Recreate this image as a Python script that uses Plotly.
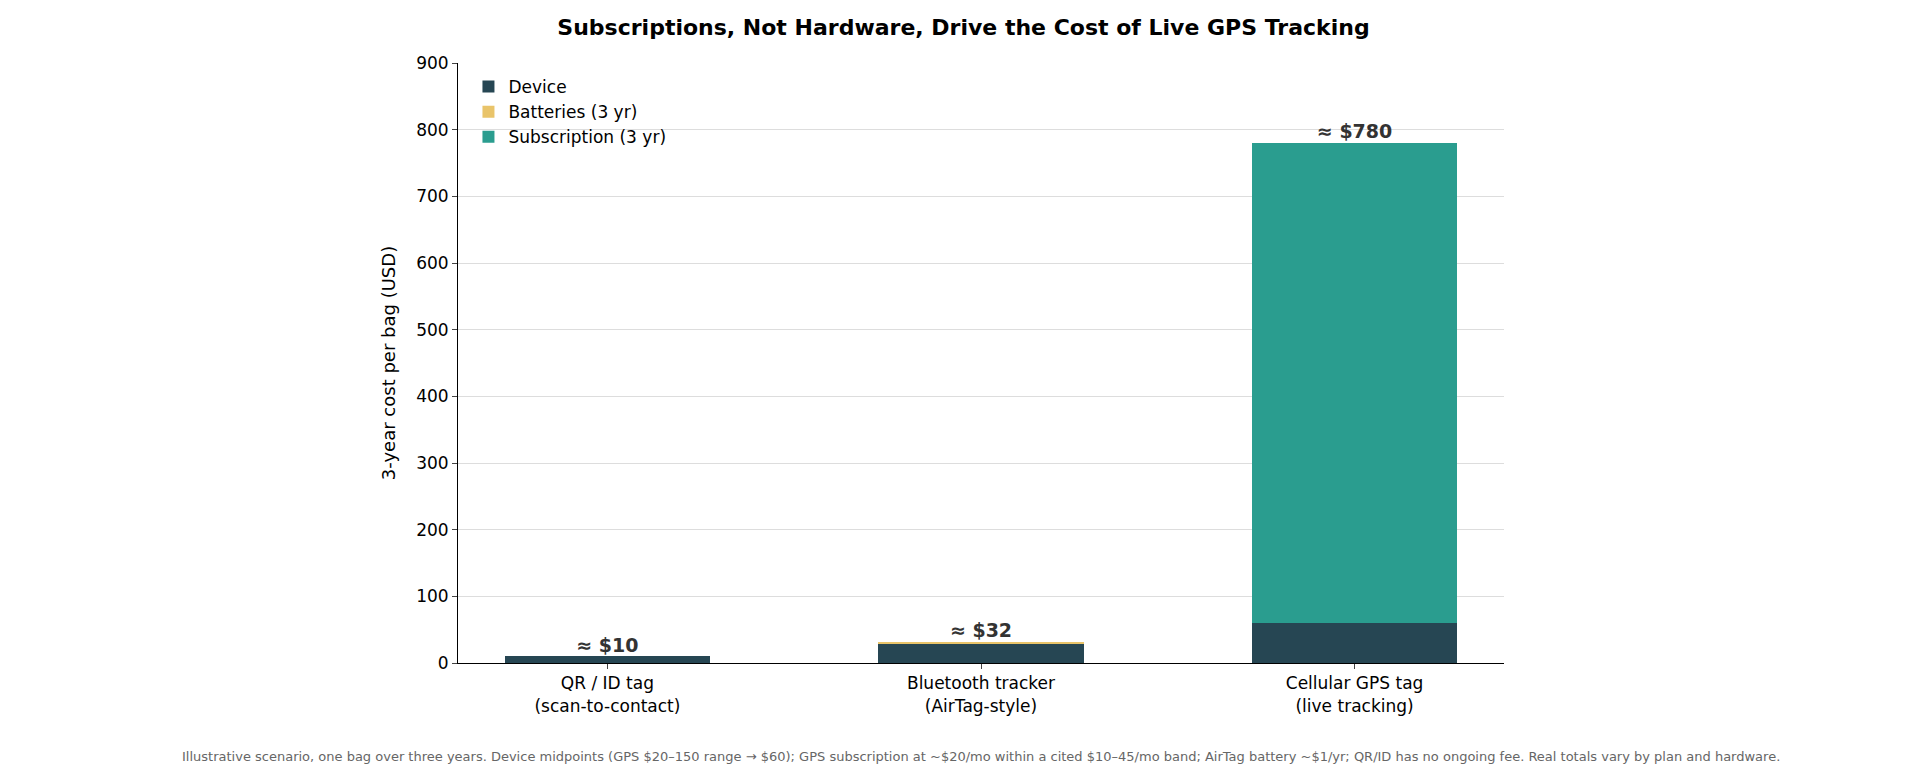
import plotly.graph_objects as go

categories = ["QR / ID tag<br>(scan-to-contact)", "Bluetooth tracker<br>(AirTag-style)", "Cellular GPS tag<br>(live tracking)"]
device = [10, 29, 60]
batteries = [0, 3, 0]
subscription = [0, 0, 720]
totals = [10, 32, 780]
total_labels = ["≈ $10", "≈ $32", "≈ $780"]

fig = go.Figure()
fig.add_bar(x=categories, y=device, name="Device", marker_color="#264653", marker_line_width=0, width=0.55)
fig.add_bar(x=categories, y=batteries, name="Batteries (3 yr)", marker_color="#E9C46A", marker_line_width=0, width=0.55)
fig.add_bar(x=categories, y=subscription, name="Subscription (3 yr)", marker_color="#2A9D8F", marker_line_width=0, width=0.55)
fig.add_scatter(x=categories, y=totals, mode="text", text=total_labels, textposition="top center",
                textfont=dict(size=19, color="#333333", family="DejaVu Sans", weight="bold"),
                showlegend=False, hoverinfo="skip", cliponaxis=False)

fig.update_layout(
    barmode="stack", bargap=0.45,
    width=1911, height=780,
    paper_bgcolor="white", plot_bgcolor="white",
    font=dict(family="DejaVu Sans", size=17, color="black"),
    margin=dict(l=450, r=415, t=55, b=125),
    title=dict(text="<b>Subscriptions, Not Hardware, Drive the Cost of Live GPS Tracking</b>",
               x=0.5, xanchor="center", y=0.985, yanchor="top", font=dict(size=22)),
    legend=dict(x=0.01, y=0.99, xanchor="left", yanchor="top", bgcolor="rgba(0,0,0,0)",
                font=dict(size=17), traceorder="normal"),
    yaxis=dict(range=[0, 900], dtick=100, showgrid=True, gridcolor="#dddddd",
               showline=True, linecolor="black", ticks="outside", ticklen=5,
               title=dict(text="3-year cost per bag (USD)", font=dict(size=18))),
    xaxis=dict(showline=True, linecolor="black", ticks="outside", ticklen=5,
               range=[-0.4, 2.4]),
    annotations=[dict(text="Illustrative scenario, one bag over three years. Device midpoints (GPS $20–150 range → $60); GPS subscription at ~$20/mo within a cited $10–45/mo band; AirTag battery ~$1/yr; QR/ID has no ongoing fee. Real totals vary by plan and hardware.",
                      xref="paper", yref="paper", x=0.5, y=-0.155, xanchor="center", yanchor="middle",
                      showarrow=False, font=dict(size=13, color="#666666"))],
)
fig.write_html("out.html")
